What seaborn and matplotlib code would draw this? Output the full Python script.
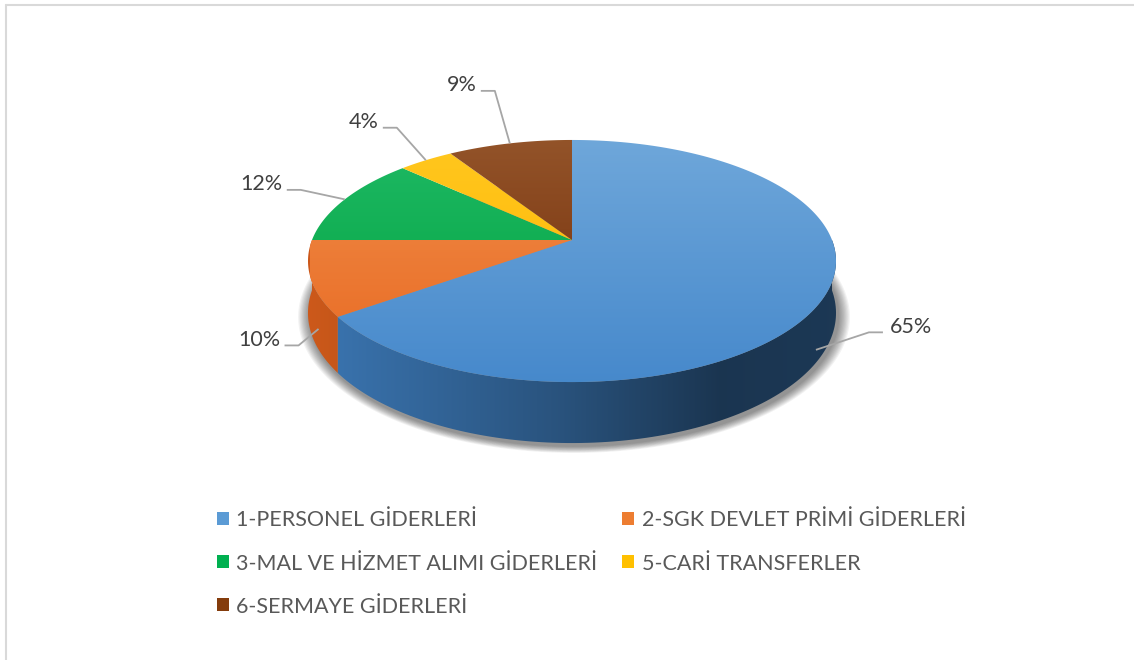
import numpy as np
import matplotlib
matplotlib.use("Agg")
import matplotlib.pyplot as plt
from matplotlib.patches import Polygon, Patch
from matplotlib.colors import to_rgb
import seaborn as sns

categories = ["1-PERSONEL GİDERLERİ", "2-SGK DEVLET PRİMİ GİDERLERİ",
              "3-MAL VE HİZMET ALIMI GİDERLERİ", "5-CARİ TRANSFERLER",
              "6-SERMAYE GİDERLERİ"]
shares = [65, 10, 12, 4, 9]
pct_labels = ["65%", "10%", "12%", "4%", "9%"]
colors = ["#5b9bd5", "#ed7d31", "#00b050", "#ffc000", "#843c0c"]

# text position of each % label relative to its anchor on the pie (pixels)
label_offsets = [(74, -23), (-38, 11), (-62, -15), (-47, -38), (-33, -58)]

sns.set_theme(style="white")
plt.rcParams['font.family'] = ['Lato', 'DejaVu Sans']

# pseudo 3D pie geometry, in pixel space
cx, cy = 572, 240
rx, ry = 260, 117.4
persp = 0.1736
depth = 50.4


def proj(t):
    d = 1 + persp * np.sin(t)
    return cx + rx * np.cos(t) / d, cy - ry * np.sin(t) / d


def wall_h(t):
    return depth / (1 + persp * np.sin(t))


def wall_shade(x):
    return np.interp(x, [312, 560, 720, 832], [0.88, 0.62, 0.40, 0.42])


fig = plt.figure(figsize=(11.34, 6.6), dpi=100)
ax = fig.add_axes([0, 0, 1, 1])
ax.set_xlim(0, 1134)
ax.set_ylim(660, 0)
ax.axis('off')

# slice angles: start at 12 o'clock, go clockwise
total = sum(shares)
cw = np.concatenate([[0], np.cumsum(shares) / total * 2 * np.pi])
t_start = np.pi / 2 - cw[:-1]
t_end = np.pi / 2 - cw[1:]

# soft shadow under the pie (bottom disc only)
tt_all = np.linspace(0, 2 * np.pi, 400)
sx, sy = proj(tt_all)
sy = sy + wall_h(tt_all)
scy = cy + depth
for k in range(10, 0, -1):
    s = 1 + k * 0.0045
    px = cx + (sx - cx) * s + 2
    py = scy + (sy - scy) * s + 3
    ax.add_patch(Polygon(np.column_stack([px, py]), closed=True,
                         facecolor='black', edgecolor='none', alpha=0.05, zorder=1))

# side walls (front half only)
for i in range(len(shares)):
    a, b = t_end[i], t_start[i]
    lo, hi = max(a, -np.pi), min(b, 0)
    if lo >= hi:
        lo, hi = max(a + 2 * np.pi, -np.pi), min(b + 2 * np.pi, 0)
    if lo >= hi:
        continue
    tt = np.linspace(lo, hi, 120)
    x1, y1 = proj(tt)
    y2 = y1 + wall_h(tt)
    poly = Polygon(np.column_stack([np.concatenate([x1, x1[::-1]]),
                                    np.concatenate([y1, y2[::-1]])]),
                   closed=True, facecolor='none', edgecolor='none')
    ax.add_patch(poly)
    xs = np.arange(int(x1.min()) - 2, int(x1.max()) + 3)
    base = np.array(to_rgb(colors[i])) ** 1.3
    row = np.clip(base[None, :] * wall_shade(xs)[:, None], 0, 1)
    img = np.repeat(row[None, :, :], 2, axis=0)
    im = ax.imshow(img, extent=(xs[0], xs[-1], y2.max() + 2, y1.min() - 2),
                   aspect='auto', origin='upper', interpolation='bilinear', zorder=2)
    im.set_clip_path(poly)

# top faces
for i in range(len(shares)):
    tt = np.linspace(t_start[i], t_end[i], 200)
    x1, y1 = proj(tt)
    px = np.concatenate([[cx], x1])
    py = np.concatenate([[cy], y1])
    poly = Polygon(np.column_stack([px, py]), closed=True,
                   facecolor='none', edgecolor='none')
    ax.add_patch(poly)
    base = np.array(to_rgb(colors[i]))
    top_c = base + (1 - base) * 0.12
    bot_c = base ** 1.25
    f = np.linspace(0, 1, 100)[:, None]
    col = top_c[None, :] * (1 - f) + bot_c[None, :] * f
    img = np.repeat(col[:, None, :], 2, axis=1)
    im = ax.imshow(img, extent=(310, 836, 384, 138), aspect='auto',
                   origin='upper', interpolation='bilinear', zorder=3)
    im.set_clip_path(poly)

# percentage labels with leader lines
for i in range(len(shares)):
    tm = (t_start[i] + t_end[i]) / 2
    ax_, ay_ = proj(tm)
    if np.sin(tm) < 0:
        ax_ = cx + (ax_ - cx) * 0.97
        ay_ = ay_ + wall_h(tm) * 0.95
    dx, dy = label_offsets[i]
    tx, ty = ax_ + dx, ay_ + dy
    if dx > 0:
        hx = [tx - 21, tx - 7]
        ha = 'left'
    else:
        hx = [tx + 18, tx + 4]
        ha = 'right'
    ax.plot([ax_, hx[0], hx[1]], [ay_, ty + 5.5, ty + 5.5],
            color='#a6a6a6', lw=1.3, zorder=4, solid_capstyle='butt')
    ax.text(tx, ty, pct_labels[i], ha=ha, va='center', fontsize=15.5,
            color='#404040', zorder=5)

# legend, filled row by row as in the original
handles = [Patch(facecolor=c, edgecolor='none') for c in colors]
order = [0, 2, 4, 1, 3]
leg = ax.legend([handles[j] for j in order], [categories[j] for j in order],
                ncol=2, loc='upper left', bbox_to_anchor=(217, 510.5),
                bbox_transform=ax.transData, frameon=False, fontsize=15.5,
                handlelength=0.55, handleheight=0.55, handletextpad=0.35,
                columnspacing=1.16, labelspacing=1.07, borderpad=0,
                borderaxespad=0, labelcolor='#595959')

# chart area border (top and left visible)
ax.plot([6, 1134], [5, 5], color='#d9d9d9', lw=1.5, zorder=0)
ax.plot([6, 6], [5, 660], color='#d9d9d9', lw=1.5, zorder=0)

fig.savefig('out.png', dpi=100)
